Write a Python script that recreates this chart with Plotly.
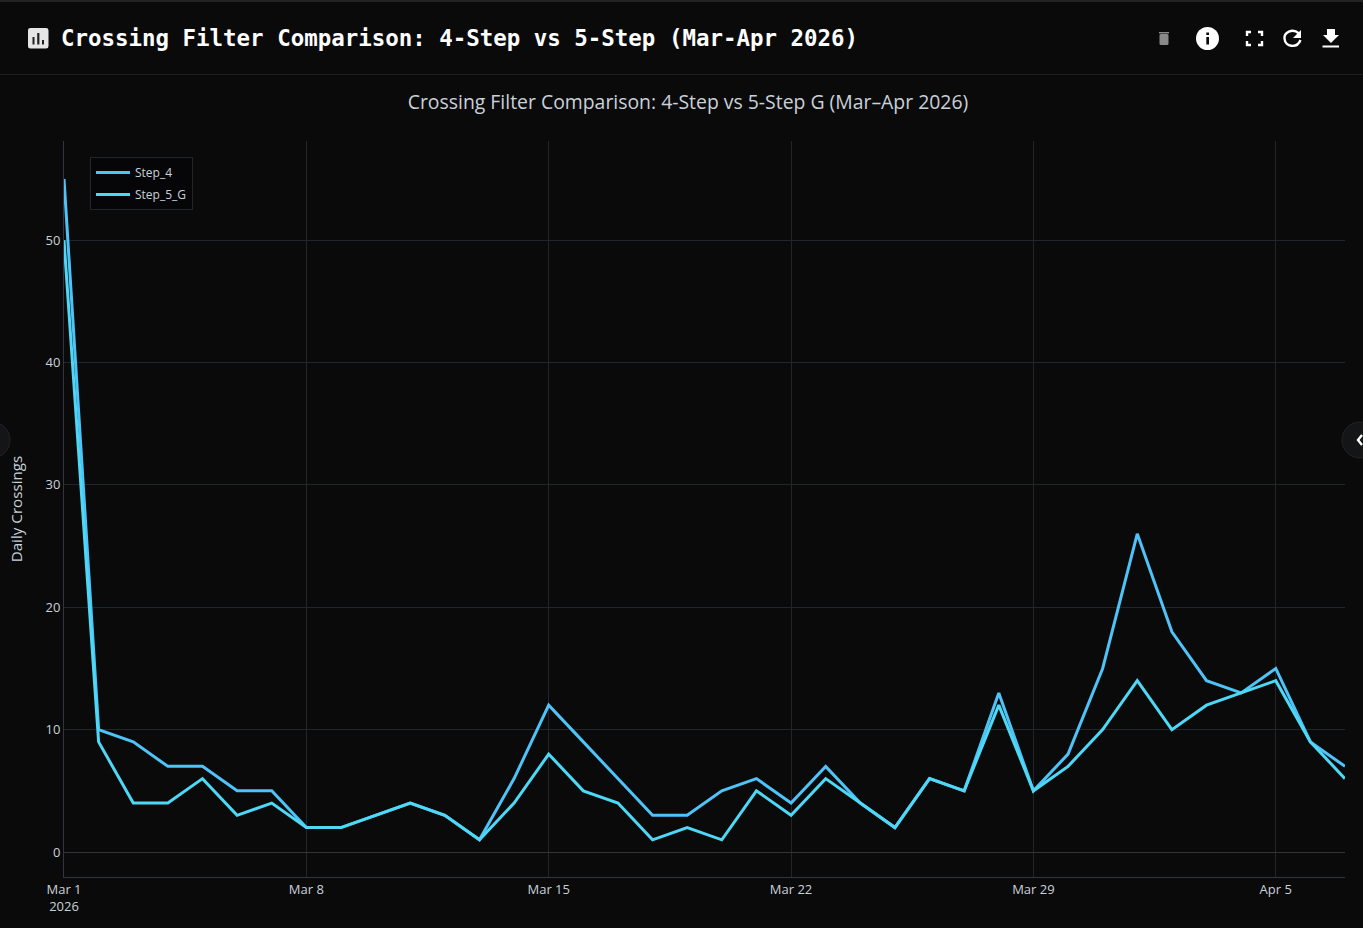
import pandas as pd
import plotly.graph_objects as go

W, H = 1363, 928
L, R, T, B = 64, 18, 141, 51

start_date = "2026-03-01"
end_date = "2026-04-07"
step_4 = [55, 10, 9, 7, 7, 5, 5, 2, 2, 3, 4, 3, 1, 6, 12, 9, 6, 3, 3, 5, 6, 4, 7, 4, 2, 6, 5, 13, 5, 8, 15, 26, 18, 14, 13, 15, 9, 7]
step_5_g = [50, 9, 4, 4, 6, 3, 4, 2, 2, 3, 4, 3, 1, 4, 8, 5, 4, 1, 2, 1, 5, 3, 6, 4, 2, 6, 5, 12, 5, 7, 10, 14, 10, 12, 13, 14, 9, 6]
dates = pd.date_range(start_date, end_date, freq="D")

BG = "#0a0a0b"
GRID = "#21262d"
AXIS = "#30363d"
TEXT = "#c9d1d9"
SANS = "Open Sans, Noto Sans, sans-serif"
MONO = "DejaVu Sans Mono, monospace"


def px(x):
    return (x - L) / (W - L - R)


def py(y):
    return 1 - (y - T) / (H - T - B)


def path(points):
    out = []
    for p in points:
        if isinstance(p, str):
            out.append(p)
        else:
            out.append(f"{px(p[0]):.5f},{py(p[1]):.5f}")
    return " ".join(out)


def rect(x0, y0, x1, y1, fill, line=None, width=0, layer="below"):
    return dict(type="rect", xref="paper", yref="paper", x0=px(x0), x1=px(x1), y0=py(y0), y1=py(y1),
                fillcolor=fill, line=dict(color=line or fill, width=width), layer=layer)


def circle(cx, cy, r, fill, line=None, width=0):
    return dict(type="circle", xref="paper", yref="paper", x0=px(cx - r), x1=px(cx + r), y0=py(cy - r), y1=py(cy + r),
                fillcolor=fill, line=dict(color=line or fill, width=width), layer="above")


def stroke(d, color="#ffffff", width=2.4):
    return dict(type="path", xref="paper", yref="paper", path=d, line=dict(color=color, width=width), layer="above")


def fill(d, color="#ffffff"):
    return dict(type="path", xref="paper", yref="paper", path=d, fillcolor=color, line=dict(color=color, width=0), layer="above")


def poly(pts):
    parts = []
    for i, p in enumerate(pts):
        parts += ["M" if i == 0 else "L", p]
    return path(parts) + " Z"


def line(pts):
    parts = []
    for i, p in enumerate(pts):
        parts += ["M" if i == 0 else "L", p]
    return path(parts)


def rounded(x0, y0, x1, y1, r):
    return path(["M", (x0 + r, y0), "L", (x1 - r, y0), "Q", (x1, y0), (x1, y0 + r),
                 "L", (x1, y1 - r), "Q", (x1, y1), (x1 - r, y1),
                 "L", (x0 + r, y1), "Q", (x0, y1), (x0, y1 - r),
                 "L", (x0, y0 + r), "Q", (x0, y0), (x0 + r, y0), "Z"])


shapes = [
    rect(0, 0, W, 2, "#232323"),
    rect(0, 74, W, 75, "#1e1f20"),
    # chart icon
    fill(rounded(28, 28, 48.5, 48.5, 2.5), "#e6e6e6"),
    rect(32.5, 37, 34.5, 44.5, "#222222", layer="above"),
    rect(37.2, 33, 39.4, 44.5, "#222222", layer="above"),
    rect(42, 40, 44, 44.5, "#222222", layer="above"),
    # trash
    fill(rounded(1159.5, 34, 1168.5, 45, 1.5), "#8a8a8a"),
    rect(1159, 32, 1169, 33.5, "#8a8a8a", layer="above"),
    # info
    circle(1207.5, 38.5, 11.5, "#ffffff"),
    rect(1206.3, 37, 1209, 44.5, BG, layer="above"),
    rect(1206.3, 32.5, 1209, 35, BG, layer="above"),
    # fullscreen
    stroke(line([(1247, 36), (1247, 32), (1251, 32)])),
    stroke(line([(1258, 32), (1262, 32), (1262, 36)])),
    stroke(line([(1247, 41), (1247, 45), (1251, 45)])),
    stroke(line([(1258, 45), (1262, 45), (1262, 41)])),
    # refresh
    stroke(path(["M", (1299, 33.5), "C", (1292, 27.5), (1284, 33), (1284.5, 38.5),
                 "C", (1285, 47), (1297, 49), (1300.5, 40)])),
    fill(poly([(1301, 30), (1301, 38), (1293, 38)])),
    # download
    fill(poly([(1327, 29), (1335, 29), (1335, 35), (1339, 35), (1331, 43), (1323, 35), (1327, 35)])),
    rect(1322.5, 45.5, 1339, 47.5, "#ffffff", layer="above"),
    # side toggles
    circle(-8, 440, 18, "#141516", "#222324", 1),
    circle(1360, 440, 18, "#141516", "#222324", 1),
    stroke(line([(1362, 435), (1358, 440), (1362, 445)])),
]

fig = go.Figure()
fig.add_trace(go.Scatter(x=dates, y=step_4, mode="lines", name="Step_4", legendgroup="a",
                         line=dict(color="#4fc3f7", width=3)))
fig.add_trace(go.Scatter(x=dates, y=step_5_g, mode="lines", name="Step_5_G", legendgroup="b",
                         line=dict(color="#4dd8f5", width=3)))

fig.update_layout(
    width=W, height=H, margin=dict(l=L, r=R, t=T, b=B, pad=0),
    paper_bgcolor=BG, plot_bgcolor=BG,
    font=dict(family=SANS, color=TEXT, size=13),
    title=dict(text="Crossing Filter Comparison: 4-Step vs 5-Step G (Mar–Apr 2026)",
               x=688 / W, xanchor="center", y=1 - 102 / H, yanchor="middle",
               font=dict(size=19.4, color=TEXT, family=SANS)),
    legend=dict(x=px(90), y=py(157), xanchor="left", yanchor="top",
                bgcolor="#060608", bordercolor=GRID, borderwidth=1, itemwidth=34,
                tracegroupgap=3, font=dict(size=12, color=TEXT, family=SANS)),
    showlegend=True,
    xaxis=dict(range=[start_date, end_date], tick0=start_date, dtick=604800000, type="date",
               showgrid=True, gridcolor=GRID, gridwidth=1,
               showline=True, linecolor=AXIS, linewidth=1, zeroline=False, ticks="",
               tickfont=dict(size=13, color=TEXT, family=SANS)),
    yaxis=dict(range=[-2.04, 58.1], tick0=0, dtick=10,
               showgrid=True, gridcolor=GRID, gridwidth=1,
               showline=True, linecolor=AXIS, linewidth=1, zeroline=True, zerolinecolor=AXIS, zerolinewidth=1,
               ticks="", tickfont=dict(size=13, color=TEXT, family=SANS),
               title=dict(text="Daily Crossings", standoff=19, font=dict(size=15.2, color=TEXT, family=SANS))),
    shapes=shapes,
    annotations=[dict(text="<b>Crossing Filter Comparison: 4-Step vs 5-Step (Mar-Apr 2026)</b>",
                      xref="paper", yref="paper", x=px(58.6), y=py(38), xanchor="left", yanchor="middle",
                      showarrow=False, align="left",
                      font=dict(family=MONO, size=22.45, color="#ffffff"))],
)

fig.write_html("out.html", config=dict(displayModeBar=False),
               post_script="document.body.style.margin='0';document.body.style.background='#0a0a0b';document.body.style.overflow='hidden';")
